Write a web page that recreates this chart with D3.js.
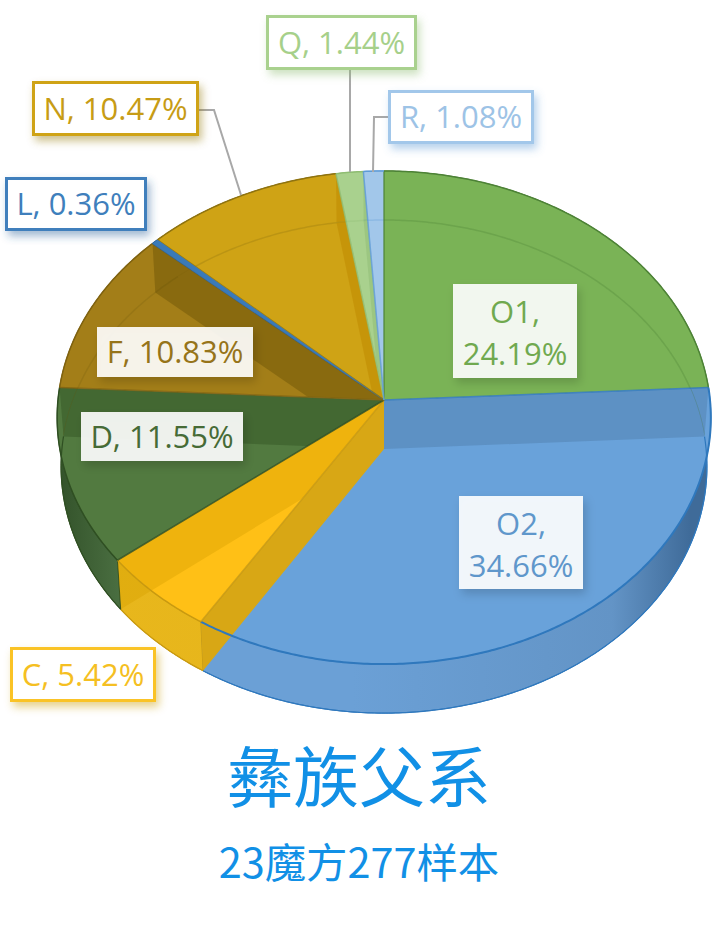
<!DOCTYPE html>
<html><head><meta charset="utf-8">
<script src="https://cdn.jsdelivr.net/npm/d3@7/dist/d3.min.js"></script>
<style>html,body{margin:0;padding:0;background:#fff}svg{display:block}</style>
</head><body><svg id="c" width="720" height="933"></svg>
<script>
// ---- data ----
const categories = ["O1","O2","C","D","F","L","N","Q","R"];
const percents   = [24.19,34.66,5.42,11.55,10.83,0.36,10.47,1.44,1.08];
const titleText = "彝族父系";
const subtitleText = "23魔方277样本";

// ---- styles (by slice order) ----
const topColors  = ["#7ab356","#69a2da","#ffc016","#527a40","#a37e18","#3a7ab8","#cfa315","#a9d18e","#a2c7ea"];
const rimColors  = ["#4d8236","#2f78bd","#c99a10","#2f4f22","#7f6210","#2a6099","#8f7310","#8fbd73","#5d9ad6"];
const wallLeft   = ["#7ab356","#6ba0d6","#e8b71c","#33522a","#a37e18","#3a7ab8","#cfa315","#a9d18e","#a2c7ea"];
const wallRight  = ["#7ab356","#3f6b99","#e5b31a","#4b7042","#a37e18","#3a7ab8","#cfa315","#a9d18e","#a2c7ea"];
const labelText  = ["#70a94f","#5f97cb","#f5bf22","#466b36","#96741a","#3f7fbc","#c79c15","#a6d08a","#9dc3e6"];
const bandFill   = {O2:["#1c3a50",0.16],C:["#d8a000",0.4],D:["#1c3a10",0.28],F:["#5a4500",0.35],N:["#c08a00",0.55],Q:["#6a9a50",0.2]};
// ---- label layout ----
const boxes = {
  O1:[453,284,124,94,false], O2:[459,496,124,93,false],
  C:[10,647,146,55,true], D:[81,412,162,49,false], F:[97,327,156,50,false],
  L:[5,177,142,54,true], N:[32,81,167,55,true], Q:[266,15,151,55,true], R:[388,90,146,54,true]
};
const leaders = {
  N:[[199,110],[214,110],[241,195]],
  Q:[[350,70],[350,172]],
  R:[[388,117],[374,117],[373,172]]
};

// ---- projection of the tilted disc ----
const cx=384, cy=400, A=245.3, B=326, k=0.0712, depth=49, shrink=0.988;
const rimTop = a=>{const u=Math.sin(a),v=Math.cos(a),d=1+k*v;return [cx+B*u/d, cy-A*v/d];};
const rimLow = a=>{const p=rimTop(a);return [cx+(p[0]-cx)*shrink, p[1]+depth];};
const apex=[cx,cy], lowApex=[cx,cy+depth];
const arcPts=(fn,a0,a1)=>{const n=Math.max(2,Math.ceil((a1-a0)/0.01));return d3.range(n+1).map(i=>fn(a0+(a1-a0)*i/n));};
const line=d3.line();
const shape=pts=>line(pts)+"Z";

const arcs=d3.pie().sort(null).value(d=>d)(percents);
const svg=d3.select("#c"), defs=svg.append("defs");

// gradients and clips
arcs.forEach((s,i)=>{
  const g=defs.append("linearGradient").attr("id","w"+i).attr("gradientUnits","userSpaceOnUse")
    .attr("x1",cx-B).attr("x2",cx+B).attr("y1",0).attr("y2",0);
  if(categories[i]==="O2"){
    g.append("stop").attr("offset","0.45").attr("stop-color",wallLeft[i]);
    g.append("stop").attr("offset","0.85").attr("stop-color","#6394c6");
    g.append("stop").attr("offset","0.97").attr("stop-color",wallRight[i]);
  } else if(categories[i]==="D"){
    g.append("stop").attr("offset","0").attr("stop-color",wallLeft[i]);
    g.append("stop").attr("offset","0.1").attr("stop-color",wallRight[i]);
  } else {
    g.append("stop").attr("offset","0").attr("stop-color",wallLeft[i]);
    g.append("stop").attr("offset","1").attr("stop-color",wallRight[i]);
  }
  const cp=defs.append("clipPath").attr("id","clip"+i);
  cp.append("path").attr("d",shape([apex,...arcPts(rimTop,s.startAngle,s.endAngle)]));
  cp.append("path").attr("d",shape([...arcPts(rimTop,s.startAngle,s.endAngle),...arcPts(rimLow,s.startAngle,s.endAngle).reverse()]));
});

categories.forEach((c,i)=>{
  const f=defs.append("filter").attr("id","sh"+i).attr("x","-20%").attr("y","-20%").attr("width","150%").attr("height","150%");
  const outside=boxes[c][4];
  f.append("feDropShadow").attr("dx",3).attr("dy",5).attr("stdDeviation",outside?4:5)
   .attr("flood-color",outside?rimColors[i]:"#000").attr("flood-opacity",outside?0.45:0.18);
});

// outer walls
svg.append("g").selectAll("path").data(arcs).join("path")
  .attr("d",s=>shape([...arcPts(rimTop,s.startAngle,s.endAngle),...arcPts(rimLow,s.startAngle,s.endAngle).reverse()]))
  .attr("fill",(s,i)=>`url(#w${i})`)
  .attr("stroke",(s,i)=>rimColors[i]).attr("stroke-width",1);

// top faces
svg.append("g").selectAll("path").data(arcs).join("path")
  .attr("d",s=>shape([apex,...arcPts(rimTop,s.startAngle,s.endAngle)]))
  .attr("fill",(s,i)=>topColors[i]);

// back rim of the bottom seen through the faces
const backRim=svg.append("g").attr("fill","none");
arcs.forEach((s,i)=>{
  if(!["O1","N","F","Q","R"].includes(categories[i])) return;
  backRim.append("path").attr("clip-path",`url(#clip${i})`)
    .attr("d",line(arcPts(rimLow,s.startAngle-0.1,s.endAngle+0.1)))
    .attr("stroke",rimColors[i]).attr("stroke-opacity",0.3).attr("stroke-width",1.5);
});

// inner radial walls seen through the faces
const bandSpec=[["O2","startAngle"],["C","endAngle"],["D","endAngle"],["F","endAngle"],["N","endAngle"],["Q","endAngle"]];
const bands=svg.append("g");
bandSpec.forEach(([c,edge])=>{
  const i=categories.indexOf(c), a=arcs[i][edge];
  bands.append("path").attr("clip-path",`url(#clip${i})`)
    .attr("d",shape([apex,rimTop(a),rimLow(a),lowApex]))
    .attr("fill",bandFill[c][0]).attr("fill-opacity",bandFill[c][1]);
});

// near wall of C against O2, over the O2 face
(function(){
  const i=categories.indexOf("C"), a=arcs[i].startAngle;
  svg.append("path").attr("d",shape([apex,rimTop(a),rimLow(a),lowApex]))
    .attr("fill","#d8a715");
})();

// radial edges and rim
const edges=svg.append("g").attr("fill","none");
arcs.forEach((s,i)=>{
  edges.append("path").attr("d",line(arcPts(rimTop,s.startAngle,s.endAngle)))
    .attr("stroke",rimColors[i]).attr("stroke-width",categories[i]==="O2"?2:1.5);
  edges.append("path").attr("d",line([apex,rimTop(s.startAngle)]))
    .attr("stroke",rimColors[i]).attr("stroke-width",1.5).attr("stroke-opacity",0.8);
});
// bottom outline
arcs.forEach((s,i)=>{
  if(!["O2","C","D"].includes(categories[i])) return;
  edges.append("path").attr("d",line(arcPts(rimLow,s.startAngle,s.endAngle)))
    .attr("stroke",rimColors[i]).attr("stroke-width",1.2);
});
// L is a thin bright wedge; redraw it above the edges
(function(){
  const i=categories.indexOf("L"), s=arcs[i];
  svg.append("path").attr("d",shape([apex,...arcPts(rimTop,s.startAngle,s.endAngle)])).attr("fill",topColors[i]);
})();

// leader lines
svg.append("g").selectAll("path").data(Object.values(leaders)).join("path")
  .attr("d",d=>line(d)).attr("fill","none").attr("stroke","#a8a8a8").attr("stroke-width",2);

// labels
const lab=svg.append("g").selectAll("g").data(categories).join("g");
lab.each(function(c,i){
  const [x,y,w,h,outside]=boxes[c], g=d3.select(this);
  g.append("rect").attr("x",x+(outside?1.5:0)).attr("y",y+(outside?1.5:0))
    .attr("width",w-(outside?3:0)).attr("height",h-(outside?3:0))
    .attr("fill","#fff").attr("fill-opacity",outside?1:0.9)
    .attr("stroke",outside?(c==="R"?"#a2c7ea":c==="Q"?"#a9d18e":c==="C"?"#fac326":c==="L"?"#3f7fbc":"#cfa315"):"none")
    .attr("stroke-width",3).attr("filter",`url(#sh${i})`);
  const val=percents[i].toFixed(2)+"%";
  const t=g.append("text").attr("text-anchor","middle").attr("fill",labelText[i])
    .attr("font-family","'Open Sans','Noto Sans',sans-serif").attr("font-size",31);
  if(h>80){
    t.append("tspan").attr("x",x+w/2).attr("y",y+39).text(c+",");
    t.append("tspan").attr("x",x+w/2).attr("y",y+81).text(val);
  } else {
    t.attr("x",x+w/2).attr("y",y+h/2+11).text(c+", "+val);
  }
});

// titles
svg.append("text").attr("x",359).attr("y",802).attr("text-anchor","middle")
  .attr("font-family","'Noto Sans CJK SC'").attr("font-size",66).attr("fill","#1190e6").text(titleText);
svg.append("text").attr("x",359).attr("y",878).attr("text-anchor","middle")
  .attr("font-family","'Noto Sans CJK SC'").attr("font-size",41.4).attr("fill","#1190e6").text(subtitleText);
</script></body></html>
